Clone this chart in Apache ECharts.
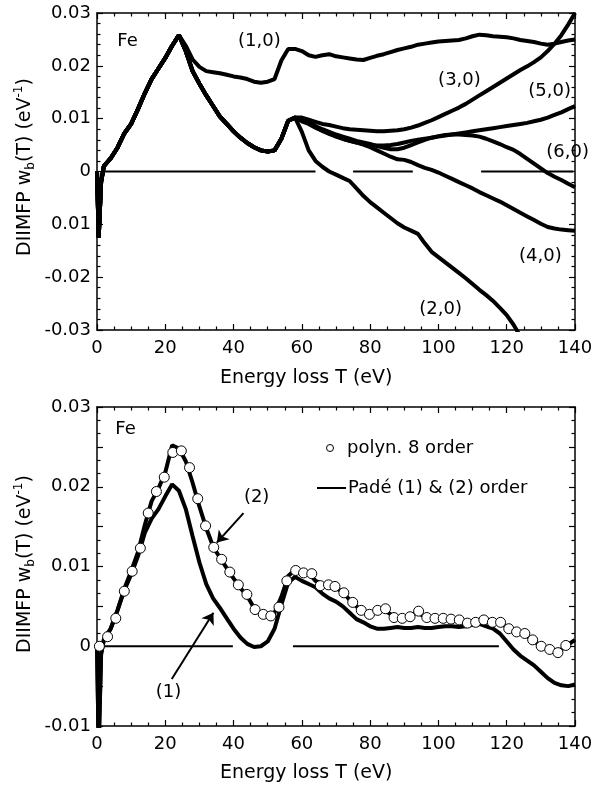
<!DOCTYPE html>
<html>
<head>
<meta charset="utf-8">
<script src="https://cdn.jsdelivr.net/npm/echarts@6/dist/echarts.min.js"></script>
<style>
  html, body { margin: 0; padding: 0; background: #fff; }
  #chart { width: 599px; height: 786px; }
</style>
</head>
<body>
<div id="chart"></div>
<script>
// energy loss grid (eV) shared by every curve
const energy = [0, 0.5, 1.2, 2, 4, 6, 8, 10, 12, 14, 16, 18, 20, 22, 24,
  26, 28, 30, 32, 34, 36, 38, 40, 42, 44, 46, 48, 50, 52, 54, 56, 58,
  60, 62, 64, 66, 68, 70, 72, 74, 76, 78, 80, 82, 84, 86, 88, 90, 92, 94,
  96, 98, 100, 102, 104, 106, 108, 110, 112, 114, 116, 118, 120, 122, 124,
  126, 128, 130, 132, 134, 136, 138, 140];

// ---- top panel: DIIMFP with (n,0) corrections ----
// common rise, 0..24 eV
const riseTop = [0, -0.0125, -0.002, 0.001, 0.0025, 0.0045, 0.0072, 0.009, 0.0118, 0.0148,
  0.0175, 0.0195, 0.0215, 0.0238, 0.0258];
// (1,0) branch, 26..140 eV
const branch10 = [0.0238, 0.0212, 0.0198, 0.019, 0.0188, 0.0186, 0.0183, 0.018, 0.0178, 0.0175,
  0.017, 0.0168, 0.017, 0.0175, 0.021, 0.0232, 0.0232, 0.0228, 0.022, 0.0217,
  0.022, 0.0222, 0.0218, 0.0216, 0.0214, 0.0212, 0.0211, 0.0215, 0.0219, 0.0222,
  0.0226, 0.023, 0.0233, 0.0236, 0.024, 0.0242, 0.0244, 0.0246, 0.0247, 0.0248,
  0.0249, 0.0252, 0.0256, 0.0259, 0.0258, 0.0256, 0.0255, 0.0254, 0.0252, 0.0249,
  0.0247, 0.0245, 0.0242, 0.024, 0.0242, 0.0245, 0.0248, 0.025];
// shared dip of the other corrections, 26..58 eV
const dipTop = [0.0228, 0.019, 0.0166, 0.0144, 0.0124, 0.0104, 0.009, 0.0076, 0.0064, 0.0054,
  0.0046, 0.004, 0.0038, 0.004, 0.0062, 0.0096, 0.0102];
// tails from 60 eV
const tail20 = [0.0075, 0.004, 0.002, 0.0009, 0.0, -0.0006, -0.0012, -0.0018, -0.0032, -0.0046,
  -0.0058, -0.0068, -0.0078, -0.0088, -0.0098, -0.0106, -0.0112, -0.0118, -0.0136, -0.0152,
  -0.0162, -0.0172, -0.0182, -0.0192, -0.0202, -0.0213, -0.0224, -0.0234, -0.0245, -0.0258,
  -0.0272, -0.029, -0.0312];
const tail30 = [0.0102, 0.0098, 0.0094, 0.009, 0.0088, 0.0085, 0.0082, 0.008, 0.0079, 0.0078,
  0.0077, 0.0076, 0.0076, 0.0077, 0.0078, 0.008, 0.0083, 0.0087, 0.0092, 0.0097,
  0.0103, 0.0109, 0.0115, 0.0121, 0.0128, 0.0136, 0.0144, 0.0152, 0.016, 0.0168,
  0.0176, 0.0184, 0.0192, 0.0199, 0.0207, 0.0216, 0.0228, 0.0242, 0.0258, 0.0278,
  0.03];
const tail40 = [0.0095, 0.009, 0.0083, 0.0077, 0.0071, 0.0066, 0.0062, 0.0058, 0.0055, 0.0051,
  0.0046, 0.004, 0.0034, 0.0028, 0.0023, 0.0022, 0.0018, 0.0012, 0.0007, 0.0003,
  -0.0002, -0.0008, -0.0014, -0.002, -0.0026, -0.0032, -0.0039, -0.0045, -0.0051, -0.0057,
  -0.0064, -0.0071, -0.0078, -0.0085, -0.0092, -0.0099, -0.0105, -0.0108, -0.011, -0.0111,
  -0.0112];
const tail50 = [0.0098, 0.0091, 0.0084, 0.0078, 0.0072, 0.0067, 0.0062, 0.0058, 0.0055, 0.0052,
  0.005, 0.0049, 0.0049, 0.005, 0.0052, 0.0055, 0.0058, 0.006, 0.0062, 0.0064,
  0.0066, 0.0068, 0.007, 0.0072, 0.0074, 0.0076, 0.0078, 0.008, 0.0082, 0.0084,
  0.0086, 0.0088, 0.009, 0.0092, 0.0095, 0.0098, 0.0102, 0.0107, 0.0112, 0.0118,
  0.0124];
const tail60 = [0.01, 0.0093, 0.0086, 0.008, 0.0075, 0.007, 0.0066, 0.0062, 0.0058, 0.0055,
  0.0052, 0.0048, 0.0045, 0.0042, 0.0042, 0.0045, 0.005, 0.0055, 0.006, 0.0064,
  0.0067, 0.0069, 0.007, 0.007, 0.0069, 0.0068, 0.0066, 0.0062, 0.0057, 0.0052,
  0.0046, 0.0041, 0.0033, 0.0024, 0.0015, 0.0006, -0.0003, -0.001, -0.0016, -0.0023,
  -0.003];
const zeroSegTop = [[1.5, 64], [75, 92.5], [112.5, 139.5]];
const topTickValues = [-0.03, -0.02, -0.01, 0, 0.01, 0.02, 0.03];
const topTickLabels = ['-0.03', '-0.02', '0.01', '0', '0.01', '0.02', '0.03'];
const topNotes = [['Fe', 9.1, 0.0245], ['(1,0)', 47.7, 0.0245], ['(3,0)', 106.3, 0.0171],
  ['(5,0)', 132.7, 0.0151], ['(6,0)', 138, 0.0035], ['(4,0)', 130, -0.0162], ['(2,0)', 100.8, -0.0262]];

// ---- bottom panel: polynomial vs Pade ----
const pade2 = [0, -0.0125, -0.001, 0.0008, 0.0022, 0.0045, 0.0072, 0.0094, 0.0118, 0.0152,
  0.0182, 0.0198, 0.0218, 0.0252, 0.0248, 0.0232, 0.0205, 0.0175, 0.0148, 0.0125,
  0.0111, 0.0098, 0.0085, 0.0073, 0.0063, 0.0048, 0.0041, 0.0038, 0.0042, 0.0062,
  0.0088, 0.0096, 0.0093, 0.0092, 0.0082, 0.0078, 0.0076, 0.0073, 0.0068, 0.0058,
  0.005, 0.0043, 0.004, 0.0045, 0.0046, 0.004, 0.0036, 0.0036, 0.004, 0.0042,
  0.0037, 0.0035, 0.0035, 0.0035, 0.0034, 0.0033, 0.003, 0.003, 0.0033, 0.0034,
  0.0031, 0.003, 0.0024, 0.002, 0.0017, 0.0013, 0.0006, 0.0001, -0.0003, -0.0007,
  -0.0004, 0.0002, 0.0008];
const pade1 = [0, -0.0125, -0.001, 0.0008, 0.0022, 0.0045, 0.007, 0.009, 0.0113, 0.0142,
  0.016, 0.0172, 0.0188, 0.0203, 0.0195, 0.0172, 0.0138, 0.0105, 0.0078, 0.006,
  0.0048, 0.0035, 0.0022, 0.0011, 0.0003, -0.0001, 0.0, 0.0006, 0.0022, 0.0052,
  0.008, 0.0087, 0.0082, 0.0078, 0.0074, 0.0066, 0.006, 0.0056, 0.005, 0.0042,
  0.0034, 0.003, 0.0025, 0.0022, 0.0022, 0.0023, 0.0024, 0.0023, 0.0023, 0.0024,
  0.0023, 0.0023, 0.0024, 0.0025, 0.0025, 0.0024, 0.0025, 0.0027, 0.0028, 0.0025,
  0.0022, 0.0016, 0.0006, -0.0004, -0.0012, -0.0018, -0.0024, -0.0032, -0.004, -0.0046,
  -0.0049, -0.005, -0.0048];
const polyE = [0.7, 3.1, 5.5, 8.0, 10.3, 12.7, 15.0, 17.4, 19.7, 22.2,
  24.7, 27.1, 29.5, 31.8, 34.2, 36.5, 38.9, 41.4, 43.9, 46.3,
  48.7, 50.9, 53.3, 55.6, 58.2, 60.5, 62.9, 65.4, 67.8, 69.7,
  72.3, 74.9, 77.4, 79.8, 82.2, 84.5, 87.0, 89.4, 91.7, 94.2,
  96.6, 99.0, 101.4, 103.7, 106.1, 108.5, 110.9, 113.3, 115.8, 118.2,
  120.6, 122.9, 125.3, 127.6, 130.1, 132.6, 135.0, 137.3];
const polyW = [0, 0.0012, 0.0035, 0.0069, 0.0094, 0.0123, 0.0167, 0.0194, 0.0212, 0.0243,
  0.0245, 0.0224, 0.0185, 0.0151, 0.0124, 0.0109, 0.0093, 0.0077, 0.0065, 0.0046,
  0.004, 0.0038, 0.0049, 0.0082, 0.0095, 0.0092, 0.0091, 0.0076, 0.0077, 0.0075,
  0.0067, 0.0055, 0.0045, 0.004, 0.0045, 0.0047, 0.0036, 0.0035, 0.0037, 0.0044,
  0.0036, 0.0035, 0.0035, 0.0034, 0.0033, 0.0029, 0.003, 0.0033, 0.003, 0.003,
  0.0022, 0.0018, 0.0016, 0.0008, 0.0, -0.0004, -0.0008, 0.0001];
const zeroSegBottom = [[1.8, 39.8], [57.4, 117.7]];
const bottomTickValues = [-0.01, 0, 0.01, 0.02, 0.03];
const bottomTickLabels = ['-0.01', '0', '0.01', '0.02', '0.03'];
const bottomNotes = [['Fe', 8.5, 0.0271], ['(2)', 46.9, 0.0186], ['(1)', 21.1, -0.0058]];
const arrow2 = [[42.9, 0.0167], [35.1, 0.013]];
const arrow1 = [[21.9, -0.0041], [34.1, 0.0042]];

const FONT = 'DejaVu Sans';
const chart = echarts.init(document.getElementById('chart'));

function tickText(values, labels) {
    return function (v) {
        for (let i = 0; i < values.length; i++) {
            if (Math.abs(values[i] - v) < 1e-7) return labels[i];
        }
        return '';
    };
}

function xAxisFor(grid, pos) {
    return {
        type: 'value', gridIndex: grid, position: pos, min: 0, max: 140, interval: 20,
        axisLine: { show: true, onZero: false, lineStyle: { color: '#000', width: 1.5 } },
        axisTick: { show: true, inside: true, length: 6, lineStyle: { color: '#000', width: 1.2 } },
        minorTick: { show: true, splitNumber: 4, length: 3.5, lineStyle: { color: '#000', width: 1.2 } },
        axisLabel: {
            show: pos === 'bottom', margin: 9, color: '#000', fontFamily: FONT, fontSize: 18,
            showMinLabel: true, showMaxLabel: true
        },
        splitLine: { show: false }
    };
}

function yAxisFor(grid, pos, min, max, interval, split, fmt) {
    return {
        type: 'value', gridIndex: grid, position: pos, min: min, max: max, interval: interval,
        axisLine: { show: true, onZero: false, lineStyle: { color: '#000', width: 1.5 } },
        axisTick: { show: true, inside: true, length: 6, lineStyle: { color: '#000', width: 1.2 } },
        minorTick: { show: true, splitNumber: split, length: 3.5, lineStyle: { color: '#000', width: 1.2 } },
        axisLabel: {
            show: pos === 'left', margin: 6, color: '#000', fontFamily: FONT, fontSize: 18,
            showMinLabel: true, showMaxLabel: true, formatter: fmt
        },
        splitLine: { show: false }
    };
}

function curve(ys, grid, width) {
    return {
        type: 'line', xAxisIndex: grid * 2, yAxisIndex: grid * 2,
        data: ys.map((v, i) => [energy[i], v]),
        showSymbol: false, symbol: 'none', silent: true, z: 2,
        lineStyle: { color: '#000', width: width, opacity: 1 }
    };
}

function zeroLine(seg, grid) {
    return {
        type: 'line', xAxisIndex: grid * 2, yAxisIndex: grid * 2,
        data: [[seg[0], 0], [seg[1], 0]],
        showSymbol: false, symbol: 'none', silent: true, z: 3,
        lineStyle: { color: '#000', width: 2, opacity: 1 }
    };
}

function note(n, grid) {
    return {
        type: 'scatter', xAxisIndex: grid * 2, yAxisIndex: grid * 2,
        data: [[n[1], n[2]]], symbolSize: 1, silent: true, z: 7,
        itemStyle: { color: '#fff', opacity: 0 },
        label: {
            show: true, position: [0, 0], align: 'center', verticalAlign: 'middle',
            formatter: n[0], opacity: 1, textBorderWidth: 0,
            color: '#000', fontFamily: FONT, fontSize: 18
        }
    };
}

function yTitle(cy) {
    return {
        type: 'text', x: 25, y: cy, rotation: Math.PI / 2,
        style: {
            text: '{a|DIIMFP w}{s|b}{a|(T) (eV}{p|-1}{a|)}',
            align: 'center', verticalAlign: 'middle',
            rich: {
                a: { fontFamily: FONT, fontSize: 19, lineHeight: 24, fill: '#000' },
                s: { fontFamily: FONT, fontSize: 12, lineHeight: 12, verticalAlign: 'bottom', fill: '#000' },
                p: { fontFamily: FONT, fontSize: 12, lineHeight: 12, verticalAlign: 'top', fill: '#000' }
            }
        }
    };
}

function xTitle(cy) {
    return {
        type: 'text', x: 220, y: cy,
        style: { text: 'Energy loss T (eV)', fontFamily: FONT, fontSize: 19, fill: '#000', verticalAlign: 'middle' }
    };
}

const series = [];
series.push(curve(riseTop.concat(branch10), 0, 4));
[tail20, tail30, tail40, tail50, tail60].forEach(t => {
    series.push(curve(riseTop.concat(dipTop, t), 0, 4));
});
zeroSegTop.forEach(s => series.push(zeroLine(s, 0)));
topNotes.forEach(n => series.push(note(n, 0)));

series.push(curve(pade1, 1, 4));
series.push(curve(pade2, 1, 4));
zeroSegBottom.forEach(s => series.push(zeroLine(s, 1)));
series.push({
    type: 'scatter', xAxisIndex: 2, yAxisIndex: 2, z: 5, silent: true,
    data: polyE.map((e, i) => [e, polyW[i]]),
    symbol: 'circle', symbolSize: 10,
    itemStyle: { color: '#fff', borderColor: '#000', borderWidth: 1, opacity: 1 }
});
series.push({
    type: 'lines', coordinateSystem: 'cartesian2d', xAxisIndex: 2, yAxisIndex: 2, z: 6,
    symbol: ['none', 'arrow'], symbolSize: 11, silent: true,
    lineStyle: { color: '#000', width: 2, opacity: 1, curveness: 0 },
    data: [{ coords: arrow1 }, { coords: arrow2 }]
});
bottomNotes.forEach(n => series.push(note(n, 1)));

const option = {
    backgroundColor: '#fff',
    animation: false,
    grid: [
        { left: 97, top: 13, width: 478, height: 317, outerBoundsMode: 'none' },
        { left: 97, top: 407, width: 478, height: 319, outerBoundsMode: 'none' }
    ],
    xAxis: [xAxisFor(0, 'bottom'), xAxisFor(0, 'top'), xAxisFor(1, 'bottom'), xAxisFor(1, 'top')],
    yAxis: [
        yAxisFor(0, 'left', -0.03, 0.03, 0.01, 5, tickText(topTickValues, topTickLabels)),
        yAxisFor(0, 'right', -0.03, 0.03, 0.01, 5, null),
        yAxisFor(1, 'left', -0.01, 0.03, 0.005, 3, tickText(bottomTickValues, bottomTickLabels)),
        yAxisFor(1, 'right', -0.01, 0.03, 0.005, 3, null)
    ],
    graphic: [
        yTitle(167), yTitle(564), xTitle(378), xTitle(773),
        // legend of the lower panel
        { type: 'circle', shape: { cx: 330, cy: 448, r: 3.5 }, style: { fill: '#fff', stroke: '#000', lineWidth: 1 } },
        { type: 'text', x: 347, y: 448, style: { text: 'polyn. 8 order', fontFamily: FONT, fontSize: 18, fill: '#000', verticalAlign: 'middle' } },
        { type: 'line', shape: { x1: 317, y1: 488, x2: 346, y2: 488 }, style: { stroke: '#000', lineWidth: 2 } },
        { type: 'text', x: 348, y: 488, style: { text: 'Padé (1) & (2) order', fontFamily: FONT, fontSize: 18, fill: '#000', verticalAlign: 'middle' } }
    ],
    series: series
};

option && chart.setOption(option);
</script>
</body>
</html>
